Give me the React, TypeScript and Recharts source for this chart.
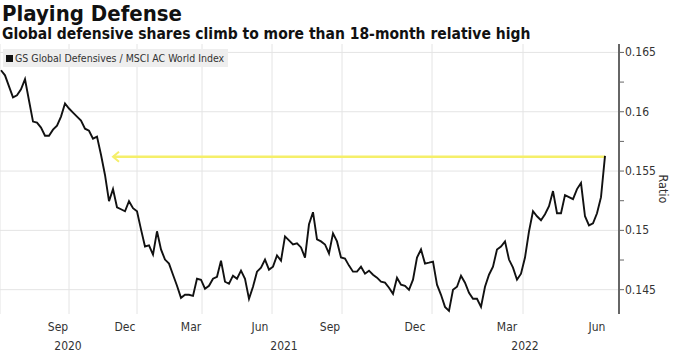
import React from 'react';
import {
  LineChart, Line, XAxis, YAxis, CartesianGrid, ReferenceLine,
} from 'recharts';

// Ratio series (GS Global Defensives / MSCI AC World), evenly spaced samples
const seriesValues = [
  0.16350, 0.16307, 0.16214, 0.16121, 0.16138, 0.16189, 0.16274, 0.16095,
  0.15917, 0.15908, 0.15866, 0.15798, 0.15798, 0.15849, 0.15883, 0.15959,
  0.16070, 0.16027, 0.15993, 0.15959, 0.15925, 0.15857, 0.15840, 0.15773,
  0.15790, 0.15637, 0.15467, 0.15246, 0.15348, 0.15195, 0.15178, 0.15161,
  0.15246, 0.15187, 0.15161, 0.15008, 0.14864, 0.14873, 0.14796, 0.14992,
  0.14839, 0.14754, 0.14720, 0.14626, 0.14533, 0.14431, 0.14457, 0.14457,
  0.14448, 0.14592, 0.14584, 0.14508, 0.14533, 0.14592, 0.14609, 0.14745,
  0.14567, 0.14550, 0.14618, 0.14592, 0.14660, 0.14592, 0.14423, 0.14525,
  0.14652, 0.14686, 0.14754, 0.14669, 0.14694, 0.14788, 0.14745, 0.14949,
  0.14915, 0.14881, 0.14890, 0.14856, 0.14771, 0.15051, 0.15153, 0.14924,
  0.14907, 0.14881, 0.14805, 0.14975, 0.14907, 0.14771, 0.14762, 0.14703,
  0.14652, 0.14652, 0.14694, 0.14635, 0.14660, 0.14626, 0.14601, 0.14567,
  0.14559, 0.14516, 0.14465, 0.14601, 0.14542, 0.14533, 0.14499, 0.14584,
  0.14771, 0.14839, 0.14720, 0.14728, 0.14737, 0.14542, 0.14457, 0.14355,
  0.14321, 0.14499, 0.14525, 0.14618, 0.14559, 0.14474, 0.14423, 0.14423,
  0.14355, 0.14525, 0.14626, 0.14694, 0.14839, 0.14864, 0.14907, 0.14754,
  0.14686, 0.14584, 0.14635, 0.14771, 0.14992, 0.15161, 0.15119, 0.15085,
  0.15136, 0.15204, 0.15331, 0.15144, 0.15144, 0.15297, 0.15280, 0.15263,
  0.15348, 0.15399, 0.15119, 0.15042, 0.15059, 0.15144, 0.15280, 0.15628,
];

const monthTicks = [14.25, 31, 47.5, 64.75, 82.25, 103.5, 126.5, 149];
const monthLabels = ['Sep', 'Dec', 'Mar', 'Jun', 'Sep', 'Dec', 'Mar', 'Jun'];
const yearTicks = [16.75, 70.75, 131];
const yearLabels = ['2020', '2021', '2022'];
const gridTicks = [17, 34, 50.25, 67.75, 85.25, 107.75, 130.5];
const yMajorTicks = [0.145, 0.15, 0.155, 0.16, 0.165];
const yMinorTicks = [0.1475, 0.1525, 0.1575, 0.1625];
const highLevel = 0.1562;
const arrowStart = 28;
const arrowEnd = 151;

const data = seriesValues.map((v, i) => ({ i, v }));

const FONT = "'DejaVu Sans Condensed', 'DejaVu Sans', sans-serif";
const X_DOMAIN: [number, number] = [-0.25, 154.5];

const YTick = (props: any) => {
  const { x, y, payload } = props;
  const val = payload.value;
  const major = yMajorTicks.some((t) => Math.abs(t - val) < 1e-9);
  if (!major) return null;
  return (
    <text x={x} y={y} dy={4} fontSize={12} fill="#333" fontFamily={FONT} textAnchor="start">
      {String(val)}
    </text>
  );
};

const RatioLabel = (props: any) => {
  const vb = props.viewBox || {};
  const cx = vb.x + vb.width - 10;
  const cy = vb.y + vb.height / 2 + 10;
  return (
    <text
      x={cx}
      y={cy}
      transform={`rotate(90, ${cx}, ${cy})`}
      textAnchor="middle"
      fontSize={12.5}
      fill="#333"
      fontFamily={FONT}
    >
      Ratio
    </text>
  );
};

const ArrowLine = (props: any) => {
  const { x1, y1, x2, y2 } = props;
  return (
    <g>
      <line x1={x1} y1={y1} x2={x2} y2={y2} stroke="#f5ef6a" strokeWidth={2.5} />
      <polyline
        points={`${x1 + 6},${y1 - 5} ${x1},${y1} ${x1 + 6},${y1 + 5}`}
        fill="none"
        stroke="#f5ef6a"
        strokeWidth={2}
      />
    </g>
  );
};

export default function App() {
  return (
    <div style={{ position: 'absolute', left: 0, top: 0, width: 675, height: 362, background: '#fff' }}>
      <div
        style={{
          position: 'absolute', left: 2, top: 1, fontFamily: FONT, fontWeight: 'bold',
          fontSize: 22, color: '#111', lineHeight: '26px',
        }}
      >
        Playing Defense
      </div>
      <div
        style={{
          position: 'absolute', left: 2, top: 25, fontFamily: FONT, fontWeight: 'bold',
          fontSize: 15.5, color: '#111', lineHeight: '19px',
        }}
      >
        Global defensive shares climb to more than 18-month relative high
      </div>
      <LineChart
        width={675}
        height={362}
        data={data}
        margin={{ top: 44, right: 6, bottom: 9, left: 0 }}
        style={{ position: 'absolute', left: 0, top: 0 }}
      >
        <CartesianGrid
          xAxisId="grid"
          stroke="#e4e4e4"
          horizontalValues={yMajorTicks}
        />
        <XAxis
          xAxisId="grid"
          dataKey="i"
          type="number"
          domain={X_DOMAIN}
          ticks={gridTicks}
          interval={0}
          height={0}
          hide
        />
        <XAxis
          xAxisId="main"
          dataKey="i"
          type="number"
          domain={X_DOMAIN}
          ticks={monthTicks}
          tickFormatter={(v: number) => monthLabels[monthTicks.indexOf(v)] ?? ''}
          axisLine={false}
          tickLine={false}
          height={19}
          tick={{ fontSize: 12, fill: '#333', fontFamily: FONT }}
          interval={0}
        />
        <XAxis
          xAxisId="year"
          dataKey="i"
          type="number"
          domain={X_DOMAIN}
          ticks={yearTicks}
          tickFormatter={(v: number) => yearLabels[yearTicks.indexOf(v)] ?? ''}
          axisLine={false}
          tickLine={false}
          height={20}
          tick={{ fontSize: 12, fill: '#333', fontFamily: FONT }}
          interval={0}
        />
        <YAxis
          orientation="right"
          type="number"
          domain={[0.14295, 0.16571]}
          ticks={[...yMajorTicks, ...yMinorTicks].sort()}
          interval={0}
          width={50}
          axisLine={{ stroke: '#666', strokeWidth: 2 }}
          tickLine={{ stroke: '#666' }}
          tickSize={5}
          tickMargin={1}
          tick={<YTick />}
          label={<RatioLabel />}
        />
        <ReferenceLine
          xAxisId="main"
          segment={[{ x: arrowStart, y: highLevel }, { x: arrowEnd, y: highLevel }]}
          shape={<ArrowLine />}
          ifOverflow="visible"
        />
        <Line
          xAxisId="main"
          type="linear"
          dataKey="v"
          stroke="#111"
          strokeWidth={1.9}
          dot={false}
          isAnimationActive={false}
        />
      </LineChart>
      <div
        style={{
          position: 'absolute', left: 3, top: 49, background: '#eeeeee',
          padding: '2px 4px 2px 3px', fontFamily: FONT, fontSize: 10.5, color: '#333',
          whiteSpace: 'nowrap', lineHeight: '14px',
        }}
      >
        <span style={{ display: 'inline-block', width: 7, height: 7, background: '#111', marginRight: 2 }} />
        GS Global Defensives / MSCI AC World Index
      </div>
    </div>
  );
}
